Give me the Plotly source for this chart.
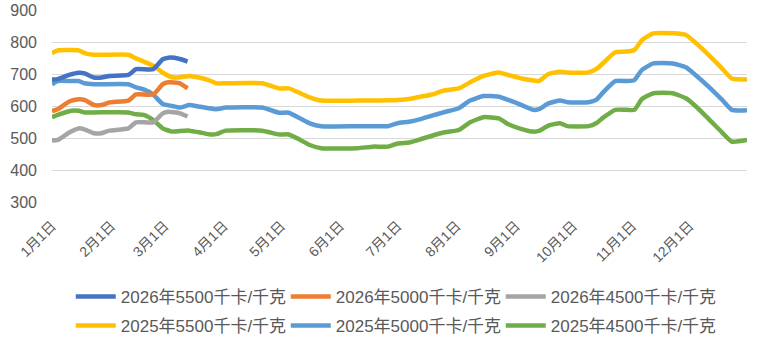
import plotly.graph_objects as go

# ---- data (month-day positions on a shared Jan–Dec axis) ----
dates_2025 = ["01-01", "01-04", "01-11", "01-15", "01-18", "01-23", "02-10", "02-14",
              "02-18", "02-23", "02-28", "03-05", "03-09", "03-14", "03-19", "03-24",
              "03-28", "04-02", "04-21", "04-30", "05-05", "05-11", "05-16", "05-22",
              "06-10", "06-18", "06-26", "07-01", "07-07", "07-13", "07-19", "07-25",
              "08-02", "08-08", "08-15", "08-23", "08-28", "09-04", "09-10", "09-13",
              "09-18", "09-24", "09-28", "10-09", "10-13", "10-17", "10-23", "10-29",
              "11-02", "11-06", "11-12", "11-22", "11-29", "12-04", "12-11", "12-18",
              "12-23", "12-31"]
y2025_5500 = [765, 774, 775, 774, 765, 760, 760, 749, 739, 726, 704, 690, 690, 694, 689, 681,
              671, 671, 671, 655, 655, 640, 627, 617, 617, 617, 618, 619, 622, 629, 636, 648,
              655, 674, 694, 705, 697, 686, 680, 678, 700, 707, 705, 705, 715, 736, 768, 770,
              775, 806, 827, 827, 822, 798, 759, 717, 686, 683]
y2025_5000 = [668, 678, 678, 678, 671, 668, 668, 658, 652, 636, 606, 600, 595, 603, 598, 593,
              590, 595, 595, 579, 579, 561, 546, 537, 537, 537, 537, 546, 551, 559, 570, 580,
              593, 617, 631, 629, 619, 603, 588, 590, 608, 617, 612, 612, 619, 645, 678, 678,
              681, 713, 733, 733, 721, 697, 660, 619, 588, 587]
y2025_4500 = [565, 572, 585, 585, 580, 580, 580, 574, 572, 556, 530, 520, 522, 523, 518, 512,
              512, 523, 523, 511, 511, 494, 478, 468, 468, 473, 473, 483, 486, 496, 507, 517,
              525, 549, 565, 561, 543, 528, 520, 522, 539, 546, 537, 537, 546, 565, 588, 588,
              588, 622, 640, 640, 624, 600, 559, 517, 489, 494]

dates_2026 = ["01-01", "01-04", "01-10", "01-15", "01-18", "01-23", "01-27", "01-31",
              "02-10", "02-14", "02-23", "02-28", "03-03", "03-09", "03-13"]
y2026_5500 = [683, 684, 697, 704, 702, 689, 689, 694, 697, 715, 715, 746, 751, 747, 739]
y2026_5000 = [584, 590, 614, 621, 619, 603, 603, 611, 617, 636, 636, 668, 674, 671, 655]
y2026_4500 = [492, 494, 517, 530, 527, 515, 515, 523, 530, 549, 549, 577, 582, 577, 567]

month_ticks = ["01-01", "02-01", "03-01", "04-01", "05-01", "06-01",
               "07-01", "08-01", "09-01", "10-01", "11-01", "12-01"]
month_labels = ["1月1日", "2月1日", "3月1日", "4月1日", "5月1日", "6月1日",
                "7月1日", "8月1日", "9月1日", "10月1日", "11月1日", "12月1日"]

y_ticks = [300, 400, 500, 600, 700, 800, 900]

AXIS_YEAR = "2025-"  # dummy year so both seasons share one month/day axis


def on_axis(md):
    return [AXIS_YEAR + d for d in md]


FONT = "Liberation Sans, Noto Sans CJK SC, sans-serif"
GREY = "#595959"

series = [
    ("2026年5500千卡/千克", dates_2026, y2026_5500, "#4472C4", "legend", 1),
    ("2026年5000千卡/千克", dates_2026, y2026_5000, "#ED7D31", "legend", 2),
    ("2026年4500千卡/千克", dates_2026, y2026_4500, "#A5A5A5", "legend", 3),
    ("2025年5500千卡/千克", dates_2025, y2025_5500, "#FFC000", "legend2", 1),
    ("2025年5000千卡/千克", dates_2025, y2025_5000, "#5B9BD5", "legend2", 2),
    ("2025年4500千卡/千克", dates_2025, y2025_4500, "#70AD47", "legend2", 3),
]

fig = go.Figure()
# draw 2025 first so 2026 lines sit on top
for name, xs, ys, color, lg, rank in series[3:] + series[:3]:
    fig.add_trace(go.Scatter(
        x=on_axis(xs), y=ys, name=name, mode="lines",
        line=dict(color=color, width=4.5, shape="spline", smoothing=0.5),
        legend=lg, legendrank=rank,
    ))

legend_common = dict(orientation="h", xanchor="left", yanchor="middle",
                     font=dict(family=FONT, size=17, color=GREY),
                     entrywidth=160, entrywidthmode="pixels",
                     bgcolor="rgba(0,0,0,0)", itemwidth=40,
                     traceorder="normal")

fig.update_layout(
    width=762, height=342,
    margin=dict(l=52, r=15, t=10, b=140, autoexpand=False),
    paper_bgcolor="white", plot_bgcolor="white",
    font=dict(family=FONT, color=GREY),
    xaxis=dict(
        type="date",
        range=[AXIS_YEAR + "01-01", AXIS_YEAR + "12-31"],
        tickvals=on_axis(month_ticks), ticktext=month_labels,
        tickangle=-45, tickfont=dict(size=14, color=GREY),
        showgrid=False, zeroline=False, showline=False, ticks="",
        ticklabelstandoff=12,
    ),
    yaxis=dict(
        range=[300, 900], tickvals=y_ticks,
        tickfont=dict(size=16, color=GREY),
        showgrid=True, gridcolor="#D9D9D9", gridwidth=1,
        zeroline=False, showline=False, ticks="", ticklabelstandoff=14,
    ),
    legend=dict(x=0.027, y=-0.495, **legend_common),
    legend2=dict(x=0.027, y=-0.646, **legend_common),
    showlegend=True,
)

fig.write_html("out.html")
